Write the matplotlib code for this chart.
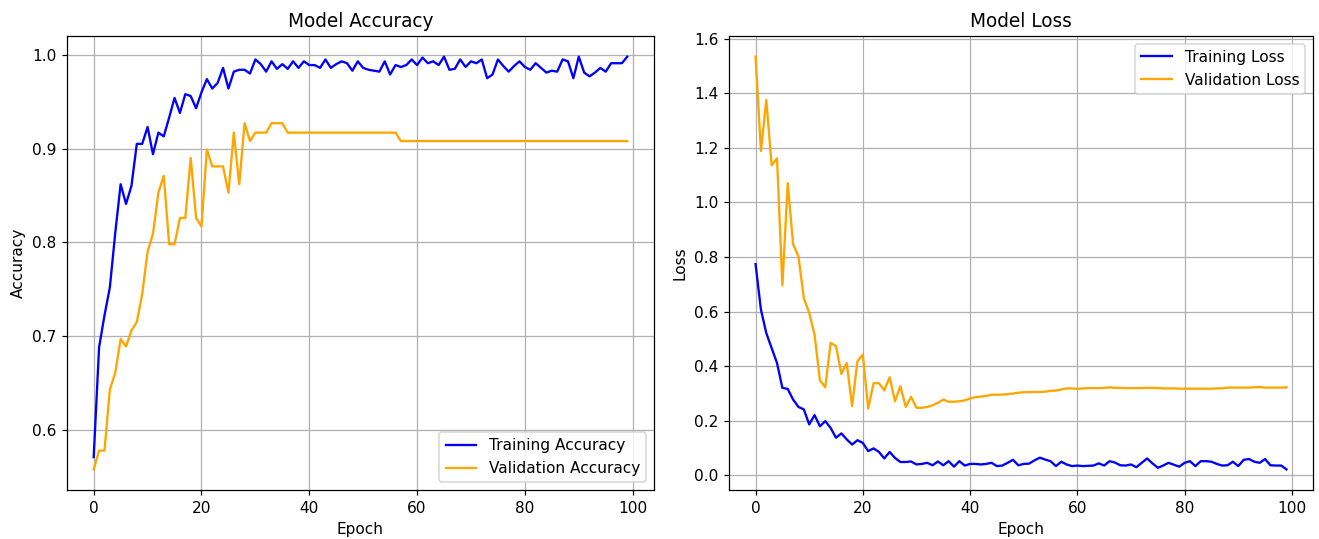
import numpy as np
import matplotlib
matplotlib.use("Agg")
import matplotlib.pyplot as plt

train_acc = [
    0.571, 0.688, 0.722, 0.752, 0.81, 0.862, 0.841, 0.86, 0.905, 0.905,
    0.923, 0.894, 0.917, 0.913, 0.933, 0.954, 0.938, 0.958, 0.956, 0.943,
    0.96, 0.974, 0.964, 0.97, 0.986, 0.964, 0.982, 0.984, 0.984, 0.98,
    0.995, 0.99, 0.982, 0.993, 0.985, 0.99, 0.985, 0.993, 0.986, 0.993,
    0.989, 0.989, 0.986, 0.995, 0.986, 0.99, 0.993, 0.991, 0.983, 0.993,
    0.986, 0.984, 0.983, 0.982, 0.993, 0.979, 0.989, 0.987, 0.989, 0.995,
    0.989, 0.997, 0.991, 0.993, 0.989, 0.998, 0.984, 0.985, 0.995, 0.987,
    0.993, 0.991, 0.995, 0.975, 0.979, 0.995, 0.988, 0.982, 0.988, 0.993,
    0.987, 0.984, 0.991, 0.986, 0.981, 0.983, 0.982, 0.995, 0.993, 0.975,
    0.998, 0.981, 0.977, 0.981, 0.986, 0.982, 0.991, 0.991, 0.991, 0.998,
]
val_acc = [
    0.558, 0.578, 0.578, 0.643, 0.661, 0.697, 0.689, 0.706, 0.715, 0.745,
    0.79, 0.809, 0.853, 0.871, 0.798, 0.798, 0.826, 0.826, 0.89, 0.826,
    0.817, 0.899, 0.881, 0.881, 0.881, 0.853, 0.917, 0.862, 0.927, 0.908,
    0.917, 0.917, 0.917, 0.927, 0.927, 0.927, 0.917, 0.917, 0.917, 0.917,
    0.917, 0.917, 0.917, 0.917, 0.917, 0.917, 0.917, 0.917, 0.917, 0.917,
    0.917, 0.917, 0.917, 0.917, 0.917, 0.917, 0.917, 0.908, 0.908, 0.908,
    0.908, 0.908, 0.908, 0.908, 0.908, 0.908, 0.908, 0.908, 0.908, 0.908,
    0.908, 0.908, 0.908, 0.908, 0.908, 0.908, 0.908, 0.908, 0.908, 0.908,
    0.908, 0.908, 0.908, 0.908, 0.908, 0.908, 0.908, 0.908, 0.908, 0.908,
    0.908, 0.908, 0.908, 0.908, 0.908, 0.908, 0.908, 0.908, 0.908, 0.908,
]
train_loss = [
    0.774, 0.607, 0.521, 0.466, 0.411, 0.32, 0.316, 0.277, 0.25, 0.241,
    0.186, 0.22, 0.179, 0.198, 0.173, 0.137, 0.153, 0.131, 0.112, 0.128,
    0.118, 0.088, 0.098, 0.085, 0.061, 0.085, 0.063, 0.048, 0.048, 0.05,
    0.039, 0.041, 0.045, 0.036, 0.05, 0.036, 0.051, 0.031, 0.051, 0.035,
    0.041, 0.041, 0.039, 0.041, 0.045, 0.033, 0.035, 0.045, 0.056, 0.036,
    0.041, 0.042, 0.054, 0.064, 0.057, 0.051, 0.033, 0.049, 0.039, 0.033,
    0.035, 0.033, 0.034, 0.035, 0.043, 0.035, 0.051, 0.046, 0.036, 0.035,
    0.039, 0.029, 0.045, 0.061, 0.043, 0.027, 0.035, 0.045, 0.038, 0.031,
    0.045, 0.051, 0.033, 0.051, 0.051, 0.049, 0.041, 0.035, 0.036, 0.049,
    0.033, 0.056, 0.059, 0.049, 0.045, 0.059, 0.036, 0.035, 0.035, 0.021,
]
val_loss = [
    1.535, 1.189, 1.376, 1.136, 1.162, 0.696, 1.071, 0.847, 0.802, 0.649,
    0.595, 0.515, 0.347, 0.322, 0.485, 0.473, 0.371, 0.411, 0.253, 0.418,
    0.442, 0.244, 0.337, 0.337, 0.311, 0.359, 0.271, 0.326, 0.25, 0.287,
    0.247, 0.247, 0.25, 0.256, 0.265, 0.277, 0.269, 0.269, 0.271, 0.274,
    0.281, 0.286, 0.288, 0.29, 0.295, 0.295, 0.295, 0.297, 0.299, 0.302,
    0.304, 0.304, 0.305, 0.305, 0.306, 0.309, 0.31, 0.314, 0.318, 0.318,
    0.316, 0.318, 0.319, 0.319, 0.319, 0.32, 0.322, 0.32, 0.32, 0.319,
    0.319, 0.319, 0.319, 0.32, 0.32, 0.319, 0.318, 0.318, 0.318, 0.317,
    0.317, 0.317, 0.317, 0.317, 0.317, 0.317, 0.318, 0.318, 0.321, 0.321,
    0.321, 0.321, 0.321, 0.322, 0.323, 0.321, 0.321, 0.321, 0.321, 0.322,
]
epochs = np.arange(len(train_acc))

# original was saved at a slightly higher dpi, so scale text/lines that way
fig, (ax1, ax2) = plt.subplots(1, 2, figsize=(1319 / 111, 539 / 111), dpi=111)
ax1.set_position([0.0508, 0.0909, 0.445, 0.8423])
ax2.set_position([0.5527, 0.0909, 0.4428, 0.8423])

ax1.plot(epochs, train_acc, color="blue", label="Training Accuracy")
ax1.plot(epochs, val_acc, color="orange", label="Validation Accuracy")
ax1.set_title("Model Accuracy")
ax1.set_xlabel("Epoch")
ax1.set_ylabel("Accuracy")
ax1.legend(loc="lower right")
ax1.grid(True)

ax2.plot(epochs, train_loss, color="blue", label="Training Loss")
ax2.plot(epochs, val_loss, color="orange", label="Validation Loss")
ax2.set_title("Model Loss")
ax2.set_xlabel("Epoch")
ax2.set_ylabel("Loss")
ax2.legend(loc="upper right")
ax2.grid(True)

fig.savefig("out.png", dpi=111)
